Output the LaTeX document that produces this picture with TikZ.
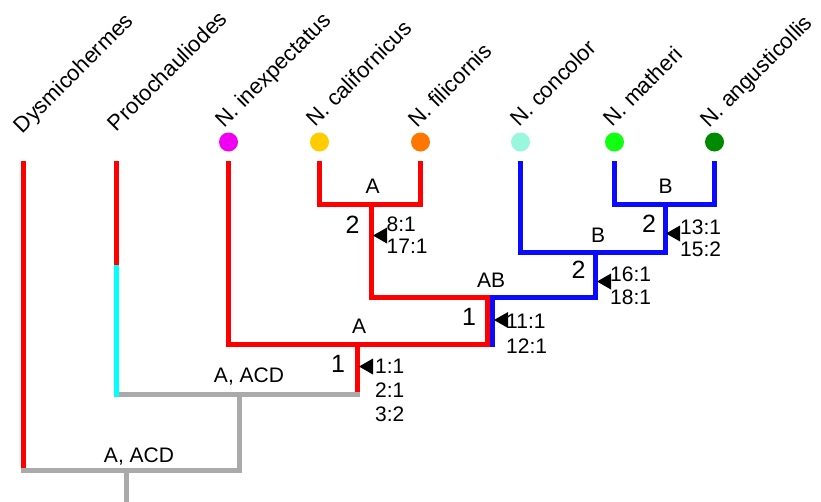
\documentclass[tikz,border=0pt]{standalone}
\usepackage{fontspec}
\setmainfont{Liberation Sans}
\definecolor{brRed}{HTML}{FF0000}
\definecolor{brBlue}{HTML}{0A0AFF}
\definecolor{brCyan}{HTML}{00FFFF}
\definecolor{brGray}{HTML}{AAAAAA}
\definecolor{cMag}{HTML}{F000F0}
\definecolor{cYel}{HTML}{FFCC00}
\definecolor{cOra}{HTML}{FF7700}
\definecolor{cAqu}{HTML}{99F7DD}
\definecolor{cGrn}{HTML}{11FF11}
\definecolor{cDgr}{HTML}{008A00}
\tikzset{
  branch/.style={line width=5pt, line cap=butt, line join=miter},
  taxon/.style={anchor=base west, inner sep=0pt, rotate=45, font=\fontsize{22}{26}\selectfont},
  state/.style={anchor=base, inner sep=0pt, font=\fontsize{21}{25}\selectfont},
  chg/.style={anchor=base west, inner sep=0pt, font=\fontsize{21}{25}\selectfont},
  steps/.style={anchor=base, inner sep=0pt, font=\fontsize{25}{30}\selectfont},
  tipdot/.style={circle, inner sep=0pt, minimum size=19pt},
  apo/.pic={\fill[black] (0,0) -- (14,-8) -- (14,8) -- cycle;}
}
\begin{document}
\begin{tikzpicture}[x=1pt, y=-1pt]
\useasboundingbox (0,0) rectangle (821,501);

% tips
\coordinate (tDys) at (23,161);
\coordinate (tPro) at (116,161);
\coordinate (tIne) at (228.5,161);
\coordinate (tCal) at (319.5,161);
\coordinate (tFil) at (420.5,161);
\coordinate (tCon) at (520.5,161);
\coordinate (tMat) at (614.5,161);
\coordinate (tAng) at (714.5,161);

% internal junctions
\coordinate (cf) at (371.5,204.5);
\coordinate (mk) at (665.5,204.5);
\coordinate (bc) at (595.5,252.5);
\coordinate (abR) at (487.5,297.5);
\coordinate (abB) at (492.5,297.5);
\coordinate (abBend) at (492.5,347);
\coordinate (ai) at (357.5,344.5);
\coordinate (aiEnd) at (357.5,392);
\coordinate (gu) at (239.5,394.5);
\coordinate (proBar) at (118.5,394.5);
\coordinate (proMid) at (116,265);
\coordinate (proEnd) at (116,397);
\coordinate (root) at (126.5,470.5);
\coordinate (dysBar) at (23,470.5);
\coordinate (dysEnd) at (23,468);
\coordinate (rootEnd) at (126.5,506);

% grey (ancestral) branches
\draw[branch, brGray] (aiEnd) |- (gu) -- (proBar);
\draw[branch, brGray] (gu) |- (root) -- (dysBar) -- (dysEnd);
\draw[branch, brGray] (root) -- (rootEnd);

% outgroups
\draw[branch, brRed] (tDys) -- (dysEnd);
\draw[branch, brRed] (tPro) -- (proMid);
\draw[branch, brCyan] (proMid) -- (proEnd);

% red clade
\draw[branch, brRed] (tCal) |- (cf) -| (tFil);
\draw[branch, brRed] (tIne) |- (ai) -| (abR) -| (cf);
\draw[branch, brRed] (ai) -- (aiEnd);

% blue clade
\draw[branch, brBlue] (tMat) |- (mk) -| (tAng);
\draw[branch, brBlue] (tCon) |- (bc) -| (mk);
\draw[branch, brBlue] (bc) |- (abB) -- (abBend);

% tip dots
\node[tipdot, fill=cMag] (dIne) at (228.5,142) {};
\node[tipdot, fill=cYel] (dCal) at (319.5,142) {};
\node[tipdot, fill=cOra] (dFil) at (420.5,142) {};
\node[tipdot, fill=cAqu] (dCon) at (520.5,142) {};
\node[tipdot, fill=cGrn] (dMat) at (614.5,142) {};
\node[tipdot, fill=cDgr] (dAng) at (714.5,142) {};

% taxon names
\node[taxon] (lDys) at (22.8,134.2) {Dysmicohermes};
\node[taxon] (lPro) at (116.8,132.2) {Protochauliodes};
\node[taxon] (lIne) at (224.5,129) {N. inexpectatus};
\node[taxon] (lCal) at (315.5,128) {N. californicus};
\node[taxon] (lFil) at (417,129) {N. filicornis};
\node[taxon] (lCon) at (519,128) {N. concolor};
\node[taxon] (lMat) at (612,128) {N. matheri};
\node[taxon] (lAng) at (709,129) {N. angusticollis};

% ancestral states
\node[state] (sCF) at (372.5,193) {A};
\node[state] (sMK) at (665.5,193) {B};
\node[state] (sBC) at (598,242) {B};
\node[state] (sAB) at (491,287) {AB};
\node[state] (sAI) at (359,333) {A};
\node[state] (sGU) at (249,382) {A, ACD};
\node[state] (sRT) at (139,462) {A, ACD};

% apomorphy markers
\pic at (373,235.5) {apo};
\pic at (494,320) {apo};
\pic at (666,233.5) {apo};
\pic at (597,281.5) {apo};
\pic at (359,366.5) {apo};

% step counts
\node[steps] (nCF) at (352.5,233) {2};
\node[steps] (nAB) at (469,325) {1};
\node[steps] (nMK) at (649,232) {2};
\node[steps] (nBC) at (578.5,278) {2};
\node[steps] (nAI) at (338,372) {1};

% character changes
\node[chg] (c1a) at (386.5,231) {8:1};
\node[chg] (c1b) at (386.5,253) {17:1};
\node[chg] (c2a) at (506,328) {11:1};
\node[chg] (c2b) at (506,353) {12:1};
\node[chg] (c3a) at (680,234) {13:1};
\node[chg] (c3b) at (680,256) {15:2};
\node[chg] (c4a) at (610,281) {16:1};
\node[chg] (c4b) at (610,304) {18:1};
\node[chg] (c5a) at (375,373) {1:1};
\node[chg] (c5b) at (375,397) {2:1};
\node[chg] (c5c) at (375,421) {3:2};
\end{tikzpicture}
\end{document}
